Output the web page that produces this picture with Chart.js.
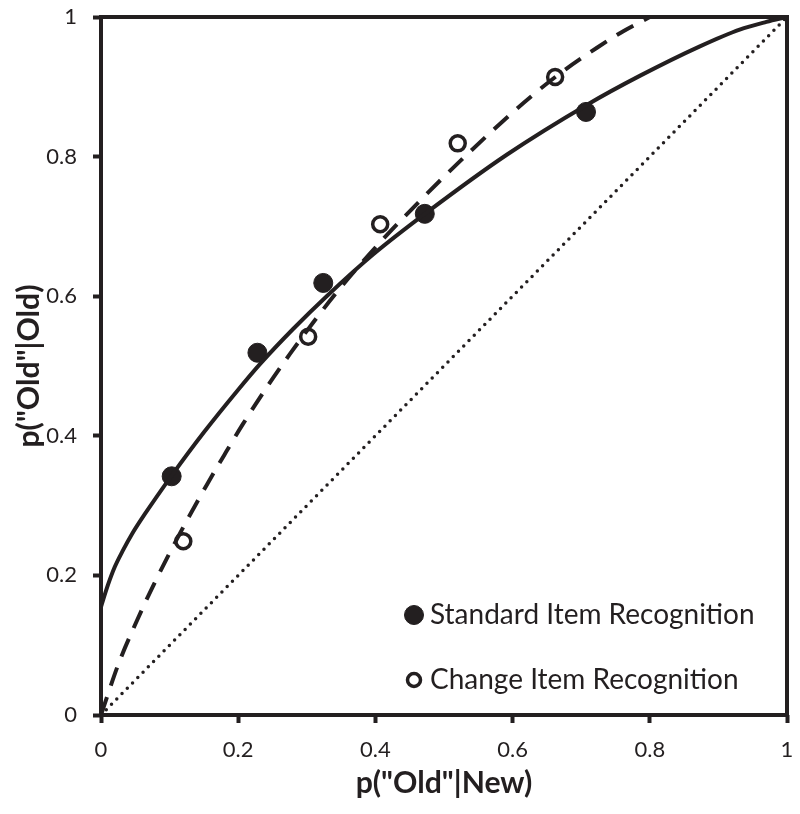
<!DOCTYPE html>
<html>
<head>
<meta charset="utf-8">
<script src="https://cdn.jsdelivr.net/npm/chart.js@4.4.1/dist/chart.umd.min.js"></script>
<style>
  html, body { margin: 0; padding: 0; background: #fff; }
</style>
</head>
<body>
<canvas id="roc" width="800" height="814"></canvas>
<script>
// --- Data ---
const standardFA = [0.103, 0.228, 0.324, 0.472, 0.707];
const standardHit = [0.342, 0.519, 0.619, 0.718, 0.864];
const changeFA = [0.120, 0.302, 0.407, 0.520, 0.662];
const changeHit = [0.249, 0.542, 0.703, 0.819, 0.914];

// fitted ROC curves (traced)
const standardFitFA = [0, 0.010, 0.020, 0.031, 0.045, 0.064, 0.103, 0.150, 0.200, 0.232, 0.280, 0.329, 0.397, 0.475, 0.592, 0.708, 0.786, 0.873, 0.931, 0.970, 1];
const standardFitHit = [0.155, 0.186, 0.212, 0.234, 0.259, 0.288, 0.343, 0.405, 0.466, 0.503, 0.553, 0.600, 0.660, 0.720, 0.803, 0.874, 0.916, 0.958, 0.982, 0.993, 1];
const changeFitFA = [0, 0.025, 0.050, 0.075, 0.100, 0.127, 0.155, 0.180, 0.207, 0.242, 0.276, 0.309, 0.344, 0.382, 0.421, 0.504, 0.585, 0.628, 0.673, 0.723, 0.762, 0.800];
const changeFitHit = [0, 0.072, 0.130, 0.183, 0.232, 0.282, 0.331, 0.373, 0.417, 0.470, 0.518, 0.562, 0.606, 0.650, 0.692, 0.775, 0.850, 0.887, 0.922, 0.956, 0.980, 1];
const chanceLine = [0, 1];

const tickValues = [0, 0.2, 0.4, 0.6, 0.8, 1];
const xTitle = 'p("Old"|New)';
const yTitle = 'p("Old"|Old)';
const legendLabels = ["Standard Item Recognition", "Change Item Recognition"];

const ink = "#231f20";
const family = "Lato, 'Open Sans', sans-serif";

const zip = (xs, ys) => xs.map((x, i) => ({ x, y: ys[i] }));

// pick a font size so a string spans roughly the width it has in the figure
function fitSize(text, weight, target) {
  const c = document.createElement("canvas").getContext("2d");
  c.font = `${weight} 100px ${family}`;
  return Math.round(1000 * target / c.measureText(text).width) / 10;
}
const titleSize = fitSize(xTitle, "bold", 177);
const legendSize = fitSize(legendLabels[0], "normal", 325);

// --- box around the plot + legend in the lower right ---
const frame = {
  id: "frame",
  beforeDatasetsDraw(chart) {
    const { ctx, chartArea: a } = chart;
    ctx.save();
    ctx.strokeStyle = ink;
    ctx.lineWidth = 4;
    ctx.strokeRect(a.left, a.top, a.right - a.left, a.bottom - a.top);
    ctx.restore();
  },
  afterDraw(chart) {
    const { ctx, chartArea: a } = chart;
    const items = [
      { ds: chart.data.datasets[3], y: a.bottom - 100, r: 9.5 },
      { ds: chart.data.datasets[4], y: a.bottom - 35, r: 6.5 },
    ];
    ctx.save();
    ctx.font = `${legendSize}px ${family}`;
    ctx.textBaseline = "middle";
    items.forEach((it, i) => {
      const cx = a.left + 313;
      ctx.beginPath();
      ctx.arc(cx, it.y, it.r, 0, Math.PI * 2);
      ctx.fillStyle = it.ds.backgroundColor;
      ctx.fill();
      ctx.lineWidth = it.ds.borderWidth;
      ctx.strokeStyle = ink;
      ctx.stroke();
      ctx.fillStyle = ink;
      ctx.fillText(legendLabels[i], a.left + 329, it.y);
    });
    ctx.restore();
  }
};

const curve = { showLine: true, pointRadius: 0, pointHoverRadius: 0, fill: false, borderColor: ink };

new Chart(document.getElementById("roc"), {
  type: "scatter",
  data: {
    datasets: [
      { ...curve, data: zip(chanceLine, chanceLine), borderWidth: 3.5, borderDash: [0, 7.5], borderCapStyle: "round" },
      { ...curve, data: zip(standardFitFA, standardFitHit), borderWidth: 4, cubicInterpolationMode: "monotone" },
      { ...curve, data: zip(changeFitFA, changeFitHit), borderWidth: 4, borderDash: [19, 12], cubicInterpolationMode: "monotone" },
      { label: legendLabels[0], data: zip(standardFA, standardHit), pointRadius: 9.5, backgroundColor: ink, borderColor: ink, borderWidth: 1 },
      { label: legendLabels[1], data: zip(changeFA, changeHit), pointRadius: 7.5, backgroundColor: "#fff", borderColor: ink, borderWidth: 3.5 }
    ]
  },
  options: {
    responsive: false,
    animation: false,
    events: [],
    layout: { padding: { top: 17, right: 13, left: 0, bottom: 0 } },
    plugins: { legend: { display: false }, tooltip: { enabled: false } },
    scales: {
      x: {
        type: "linear", min: 0, max: 1,
        afterBuildTicks: s => { s.ticks = tickValues.map(v => ({ value: v })); },
        afterFit: s => { s.height = 99; s.paddingLeft = 0; s.paddingRight = 0; },
        grid: { display: true, drawOnChartArea: false, drawTicks: true, tickLength: 8, tickWidth: 4, tickColor: ink },
        border: { display: false },
        ticks: { color: ink, font: { family, size: 22 }, padding: 14, callback: v => String(+v.toFixed(1)) },
        title: { display: true, text: xTitle, color: ink, font: { family, size: titleSize, weight: "bold" }, padding: { top: 0, bottom: 13 } }
      },
      y: {
        type: "linear", min: 0, max: 1,
        afterBuildTicks: s => { s.ticks = tickValues.map(v => ({ value: v })); },
        afterFit: s => { s.width = 101; s.paddingTop = 0; s.paddingBottom = 0; },
        grid: { display: true, drawOnChartArea: false, drawTicks: true, tickLength: 8, tickWidth: 4, tickColor: ink },
        border: { display: false },
        ticks: { color: ink, font: { family, size: 22 }, padding: 16, callback: v => String(+v.toFixed(1)) },
        title: { display: true, text: yTitle, color: ink, font: { family, size: titleSize, weight: "bold" }, padding: { top: 11, bottom: 0 } }
      }
    }
  },
  plugins: [frame]
});
</script>
</body>
</html>
